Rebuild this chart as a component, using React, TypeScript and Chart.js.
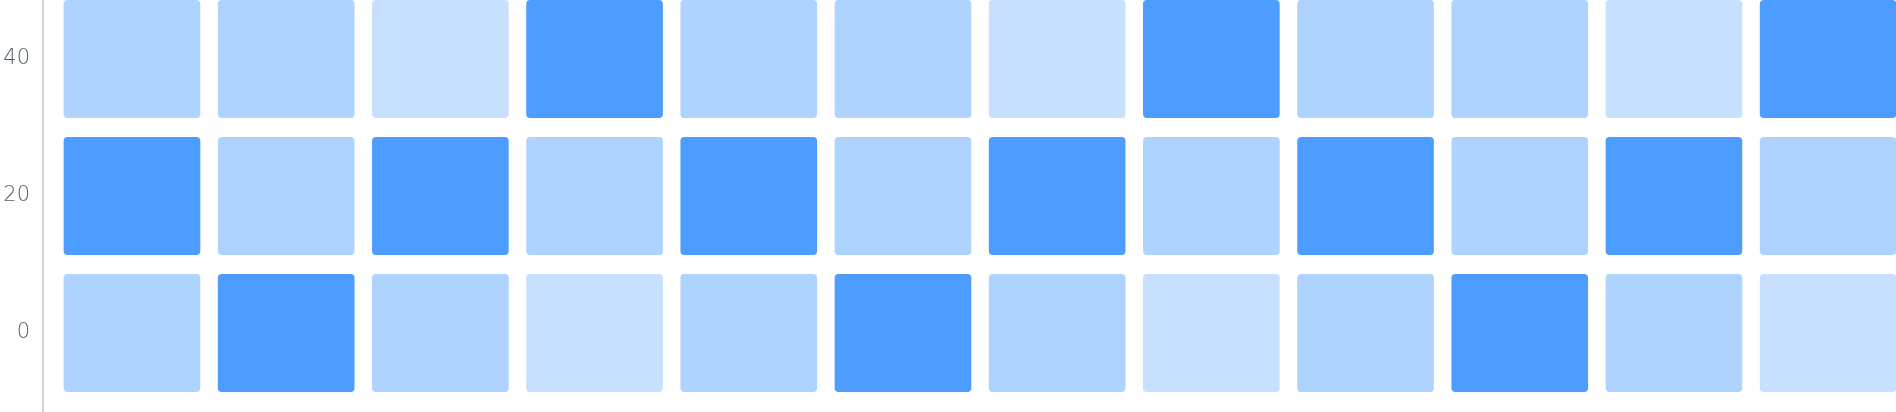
import Chart, { ChartConfiguration } from "chart.js/auto";
import React, { useRef } from "react";

// heatmap rows (y position = row value) and the shade level of each of the 12 cells
const rowValues = [0, 20, 40];
const row0 = [2, 3, 2, 1, 2, 3, 2, 1, 2, 3, 2, 1];
const row20 = [3, 2, 3, 2, 3, 2, 3, 2, 3, 2, 3, 2];
const row40 = [2, 2, 1, 3, 2, 2, 1, 3, 2, 2, 1, 3];
const tickValues = [0, 20, 40];

const shade = (level: number) =>
  level >= 3 ? "#4c9dff" : level === 2 ? "#afd3ff" : "#c7e0ff";

const HALF = 8.55;

const Heatmap = () => {
  const canvasEl = useRef<HTMLCanvasElement>(null);
  React.useEffect(() => {
    document.body.style.margin = "0";
    const ctx = canvasEl.current!.getContext("2d");

    const rows = [row0, row20, row40];
    const datasets = rows.map((levels, r) => ({
      label: String(rowValues[r]),
      data: levels.map((_, i) => ({
        x: i,
        y: [rowValues[r] - HALF, rowValues[r] + HALF],
      })),
      backgroundColor: levels.map(shade),
      borderRadius: 4,
      borderSkipped: false,
      barThickness: 136,
      grouped: false,
    }));

    const config = {
      type: "bar",
      data: { datasets },
      options: {
        responsive: true,
        maintainAspectRatio: false,
        animation: false,
        layout: { padding: 0 },
        plugins: { legend: { display: false }, tooltip: { enabled: false } },
        scales: {
          x: {
            type: "linear",
            display: false,
            offset: false,
            min: -0.577,
            max: 11.44,
          },
          y: {
            type: "linear",
            min: -11.53,
            max: 48.61,
            grid: { display: false, drawTicks: false },
            border: { display: true, color: "#d4d4d4", width: 2 },
            afterBuildTicks: (scale: any) => {
              scale.ticks = tickValues.map((v) => ({ value: v }));
            },
            afterFit: (scale: any) => {
              scale.width = 43;
              scale.paddingTop = 0;
              scale.paddingBottom = 0;
            },
            ticks: {
              padding: 13,
              color: "#4f5e69",
              font: { family: "'DejaVu Sans'", size: 21, weight: "300" },
            },
          },
        },
      },
    } as ChartConfiguration;
    const chart = new Chart(ctx!, config);

    return () => {
      chart.destroy();
    };
  }, []);
  return (
    <div style={{ width: 1896, height: 412, position: "relative" }}>
      <canvas ref={canvasEl}></canvas>
    </div>
  );
};

export default function App() {
  return <Heatmap />;
}
